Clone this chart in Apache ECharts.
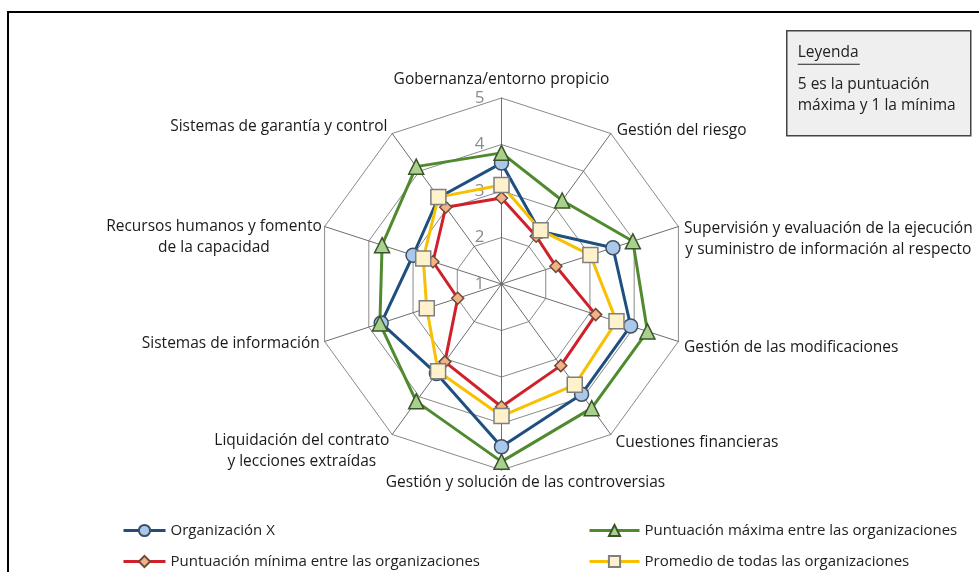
<!DOCTYPE html>
<html>
<head>
<meta charset="utf-8">
<script src="https://cdn.jsdelivr.net/npm/echarts@6/dist/echarts.min.js"></script>
<style>
  html, body { margin: 0; padding: 0; background: #fff; }
  #chart { width: 979px; height: 572px; }
</style>
</head>
<body>
<div id="chart"></div>
<script>
// indicadores en el orden de ECharts (desde arriba, sentido antihorario)
const categories = [
  "Gobernanza/entorno propicio",
  "Sistemas de garantía y control",
  "Recursos humanos y fomento\nde la capacidad",
  "Sistemas de información",
  "Liquidación del contrato\ny lecciones extraídas",
  "Gestión y solución de las controversias",
  "Cuestiones financieras",
  "Gestión de las modificaciones",
  "Supervisión y evaluación de la ejecución\ny suministro de información al respecto",
  "Gestión del riesgo"
];
const seriesNames = [
  "Organización X",
  "Puntuación máxima entre las organizaciones",
  "Puntuación mínima entre las organizaciones",
  "Promedio de todas las organizaciones"
];
const orgX = [3.6, 3.3, 3.0, 3.72, 3.38, 4.5, 3.93, 3.92, 3.52, 2.4];
const maxScore = [3.82, 4.12, 3.7, 3.75, 4.12, 4.82, 4.3, 4.3, 3.97, 3.22];
const minScore = [2.85, 3.04, 2.55, 1.99, 3.07, 3.64, 3.17, 3.13, 2.23, 2.27];
const avgScore = [3.13, 3.31, 2.77, 2.69, 3.32, 3.84, 3.68, 3.6, 3.01, 2.43];
const scaleMin = 1;
const scaleMax = 5;

const FONT = "Open Sans";
const chart = echarts.init(document.getElementById("chart"));

// ajuste fino de cada rótulo: [separación, padding]
const nameTweaks = [
  [8, [0, 0, 0, 0]],
  [8, [0, 0, 0, 0]],
  [3, [22, 0, 0, 0]],
  [5, [2, 0, 0, 0]],
  [5, [26, 0, 0, 0]],
  [2, [0, 0, 0, 48]],
  [8, [3, 0, 0, 0]],
  [6, [8, 0, 0, 0]],
  [6, [29, 0, 0, 0]],
  [10, [10, 0, 0, 0]]
];

const indicator = categories.map((name, i) => {
  const ind = {
    name: name,
    min: scaleMin,
    max: scaleMax,
    nameGap: nameTweaks[i][0],
    nameTextStyle: { padding: nameTweaks[i][1] }
  };
  if (i === 0) {
    ind.axisLabel = { show: true };
  }
  return ind;
});

const styles = [
  { line: "#1f4e80", fill: "#a9c8ea", border: "#3d4f63", symbol: "circle", size: 14 },
  { line: "#4f8a2f", fill: "#a9d18e", border: "#39542a", symbol: "triangle", size: 15 },
  { line: "#d0202c", fill: "#f4b183", border: "#6d4a3a", symbol: "diamond", size: 12 },
  { line: "#f7c000", fill: "#fdf2cc", border: "#7f7f7f", symbol: "rect", size: 15 }
];
const values = [orgX, maxScore, minScore, avgScore];

// posición de cada entrada de la leyenda: [left, top, ancho del icono]
const legendPos = [
  [117, 518, 42],
  [583, 518, 50],
  [117, 549, 42],
  [583, 549, 50]
];

const legendText = { fontFamily: FONT, fontSize: 15, color: "#222" };

const option = {
  backgroundColor: "#fff",
  animation: false,
  textStyle: { fontFamily: FONT },
  // rejilla oculta: solo sirve para que la leyenda dibuje línea + símbolo
  grid: { show: false, left: 0, top: 0, width: 1, height: 1 },
  xAxis: { type: "value", show: false },
  yAxis: { type: "value", show: false },
  legend: seriesNames.map((n, i) => ({
    left: legendPos[i][0],
    top: legendPos[i][1],
    itemWidth: legendPos[i][2],
    itemHeight: 14,
    lineStyle: { width: 3 },
    textStyle: legendText,
    data: [n]
  })),
  radar: {
    center: [501.5, 284],
    radius: 186,
    startAngle: 90,
    splitNumber: 4,
    shape: "polygon",
    indicator: indicator,
    axisName: {
      color: "#1a1a1a",
      fontFamily: FONT,
      fontSize: 15.5,
      formatter: function (name) {
        return name.split("\n").map((l) => "{c|" + l + "}").join("\n");
      },
      rich: {
        c: { align: "center", fontFamily: FONT, fontSize: 15.5, color: "#1a1a1a", lineHeight: 21 }
      }
    },
    axisLine: { lineStyle: { color: "#6e6e6e", width: 1 } },
    splitLine: { lineStyle: { color: "#8a8a8a", width: 1 } },
    splitArea: { show: false },
    axisTick: { show: false },
    axisLabel: {
      show: false,
      color: "#8c8c8c",
      fontFamily: FONT,
      fontSize: 17,
      margin: 17
    }
  },
  graphic: [
    {
      type: "rect",
      shape: { x: 8, y: 12, width: 1000, height: 600 },
      style: { fill: "none", stroke: "#000", lineWidth: 2 },
      silent: true
    },
    {
      type: "group",
      left: 786,
      top: 30,
      children: [
        {
          type: "rect",
          shape: { x: 0, y: 0, width: 184, height: 105 },
          style: { fill: "#efefef", stroke: "#444", lineWidth: 1.5 }
        },
        {
          type: "text",
          x: 11,
          y: 14,
          style: { text: "Leyenda", fontFamily: FONT, fontSize: 15.5, fill: "#222" }
        },
        {
          type: "line",
          shape: { x1: 11, y1: 33.5, x2: 73, y2: 33.5 },
          style: { stroke: "#222", lineWidth: 1 }
        },
        {
          type: "text",
          x: 11,
          y: 43,
          style: {
            text: "5 es la puntuación\nmáxima y 1 la mínima",
            fontFamily: FONT,
            fontSize: 15.5,
            lineHeight: 21,
            fill: "#222"
          }
        }
      ]
    }
  ],
  series: []
};

// series de línea vacías (solo para el icono de la leyenda)
values.forEach((v, i) => {
  option.series.push({
    name: seriesNames[i],
    type: "line",
    data: [],
    symbol: styles[i].symbol,
    lineStyle: { color: styles[i].line, width: 3 },
    itemStyle: { color: styles[i].fill, borderColor: styles[i].border, borderWidth: 1.2 }
  });
});

values.forEach((v, i) => {
  option.series.push({
    name: seriesNames[i],
    type: "radar",
    symbol: styles[i].symbol,
    symbolSize: styles[i].size,
    lineStyle: { color: styles[i].line, width: 3 },
    itemStyle: { color: styles[i].fill, borderColor: styles[i].border, borderWidth: 1.5 },
    z: 2 + i,
    data: [{ value: v, name: seriesNames[i] }]
  });
});

chart.setOption(option);
</script>
</body>
</html>
